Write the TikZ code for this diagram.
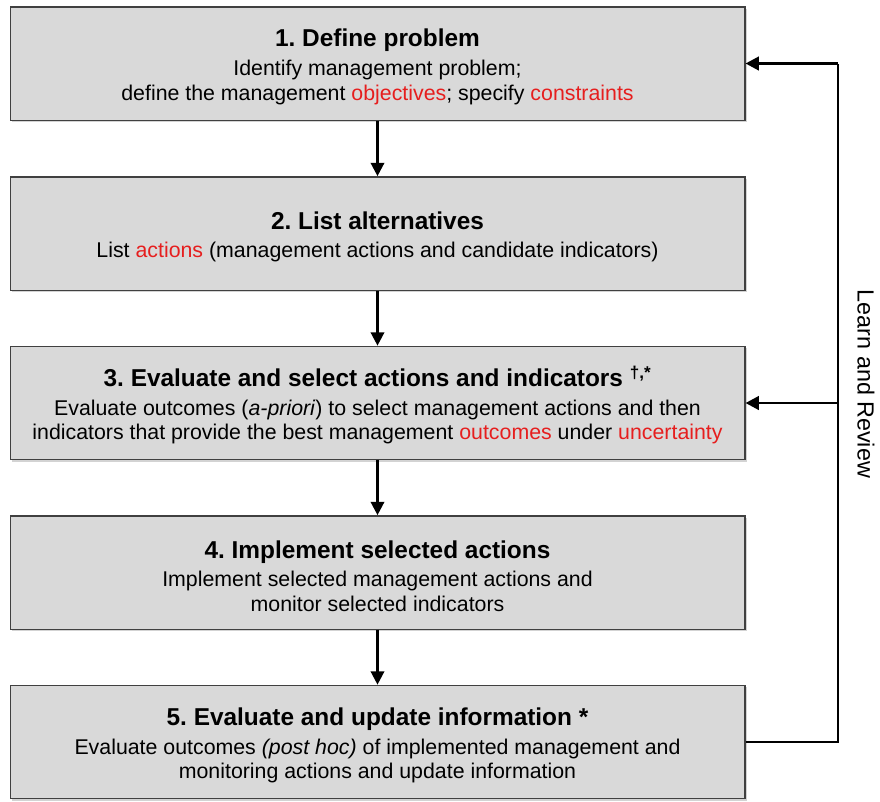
\documentclass[tikz,border=0pt]{standalone}
\usepackage{fontspec}
\setmainfont{Liberation Sans}
\usetikzlibrary{shadows,arrows.meta}
\definecolor{hilite}{RGB}{230,30,30}
\definecolor{boxfill}{RGB}{217,217,217}
\newcommand{\hl}[1]{\textcolor{hilite}{#1}}
\newcommand{\ttl}[1]{{\fontsize{18.3pt}{21pt}\selectfont\bfseries\rule{0pt}{18.5pt}#1}\\[3pt]}
\frenchspacing

\begin{document}
\begin{tikzpicture}[
    x=0.75pt, y=-0.75pt,
    box/.style={draw=black!75, line width=1pt, fill=boxfill, minimum width=551pt, minimum height=85pt,
        align=center, font=\fontsize{16pt}{18.5pt}\selectfont,
        drop shadow={shadow xshift=1.5pt, shadow yshift=-1.5pt, opacity=0.35}},
    arr/.style={-{Triangle[length=10pt,width=10pt]}, line width=1.8pt},
    fb/.style={line width=2.2pt}
]
    \useasboundingbox (0,0) rectangle (880,801);

    % --- the five steps ---
    \node[box] (s1) at (377.5,63.5) {\ttl{1. Define problem}Identify management problem;\\define the management \hl{objectives}; specify \hl{constraints}};
    \node[box] (s2) at (377.5,233.5) {\ttl{2. List alternatives}List \hl{actions} (management actions and candidate indicators)};
    \node[box] (s3) at (377.5,403) {\ttl{3. Evaluate and select actions and indicators \textsuperscript{†,*}}Evaluate outcomes (\textit{a-priori}) to select management actions and then\\indicators that provide the best management \hl{outcomes} under \hl{uncertainty}};
    \node[box] (s4) at (377.5,572.5) {\ttl{4. Implement selected actions}Implement selected management actions and\\monitor selected indicators};
    \node[box] (s5) at (377.5,742) {\ttl{5. Evaluate and update information *}Evaluate outcomes \textit{(post hoc)} of implemented management and\\monitoring actions and update information};

    % --- downward flow ---
    \draw[arr] (s1) -- (s2);
    \draw[arr] (s2) -- (s3);
    \draw[arr] (s3) -- (s4);
    \draw[arr] (s4) -- (s5);

    % --- feedback loop ---
    \coordinate (top) at (838,63.5);
    \coordinate (mid) at (838,403);
    \coordinate (bot) at (838,742);
    \draw[fb] (s5.east) -- (bot) -- (top);
    \draw[arr, line width=2.2pt] (top) -- (s1.east);
    \draw[arr, line width=2.2pt] (mid) -- (s3.east);
    \node[rotate=-90, font=\fontsize{17.5pt}{20pt}\selectfont] (lr) at (866,384) {Learn and Review};
\end{tikzpicture}
\end{document}
